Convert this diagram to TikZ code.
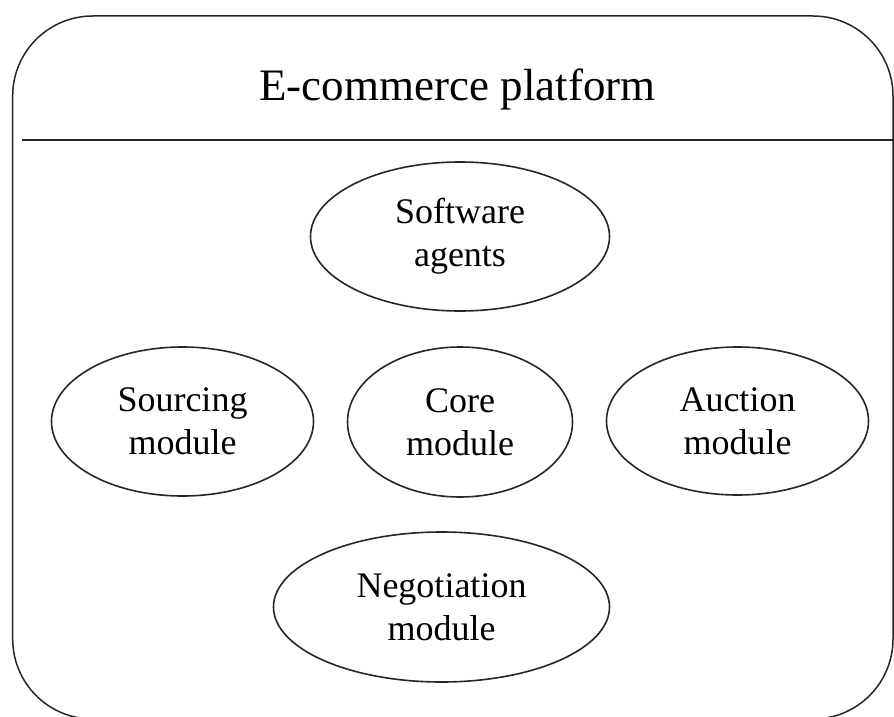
\documentclass[tikz,border=0pt]{standalone}
\usepackage{fontspec}
\setmainfont{Liberation Serif}
\usetikzlibrary{shapes.geometric}
\begin{document}
\begin{tikzpicture}[x=1pt,y=-1pt,
  frame/.style={draw=black!85, line width=1.5pt},
  module/.style={ellipse, draw=black!85, line width=1.6pt, inner sep=0pt,
    align=center, font=\fontsize{36}{43}\selectfont},
  titletext/.style={font=\fontsize{45}{54}\selectfont, anchor=base, inner sep=0pt}]
\useasboundingbox (0,0) rectangle (894,717);
\draw[frame, rounded corners=80pt] (12.7,16) rectangle (893,719);
\coordinate (hl) at (22,140);
\coordinate (hr) at (893,140);
\draw[frame] (hl) -- (hr);
\node[titletext] (title) at (457.5,100) {E-commerce platform};
\node[module, minimum width=299pt, minimum height=149pt] (sw) at (460,236.5) {Software\\agents};
\node[module, minimum width=262pt, minimum height=149pt] (src) at (182.5,421.5) {Sourcing\\module};
\node[module, minimum width=225pt, minimum height=150pt] (core) at (460,422) {Core\\module};
\node[module, minimum width=262pt, minimum height=148pt] (auc) at (737.5,421) {Auction\\module};
\node[module, minimum width=336pt, minimum height=150pt] (neg) at (441.5,607) {Negotiation\\module};
\end{tikzpicture}
\end{document}
